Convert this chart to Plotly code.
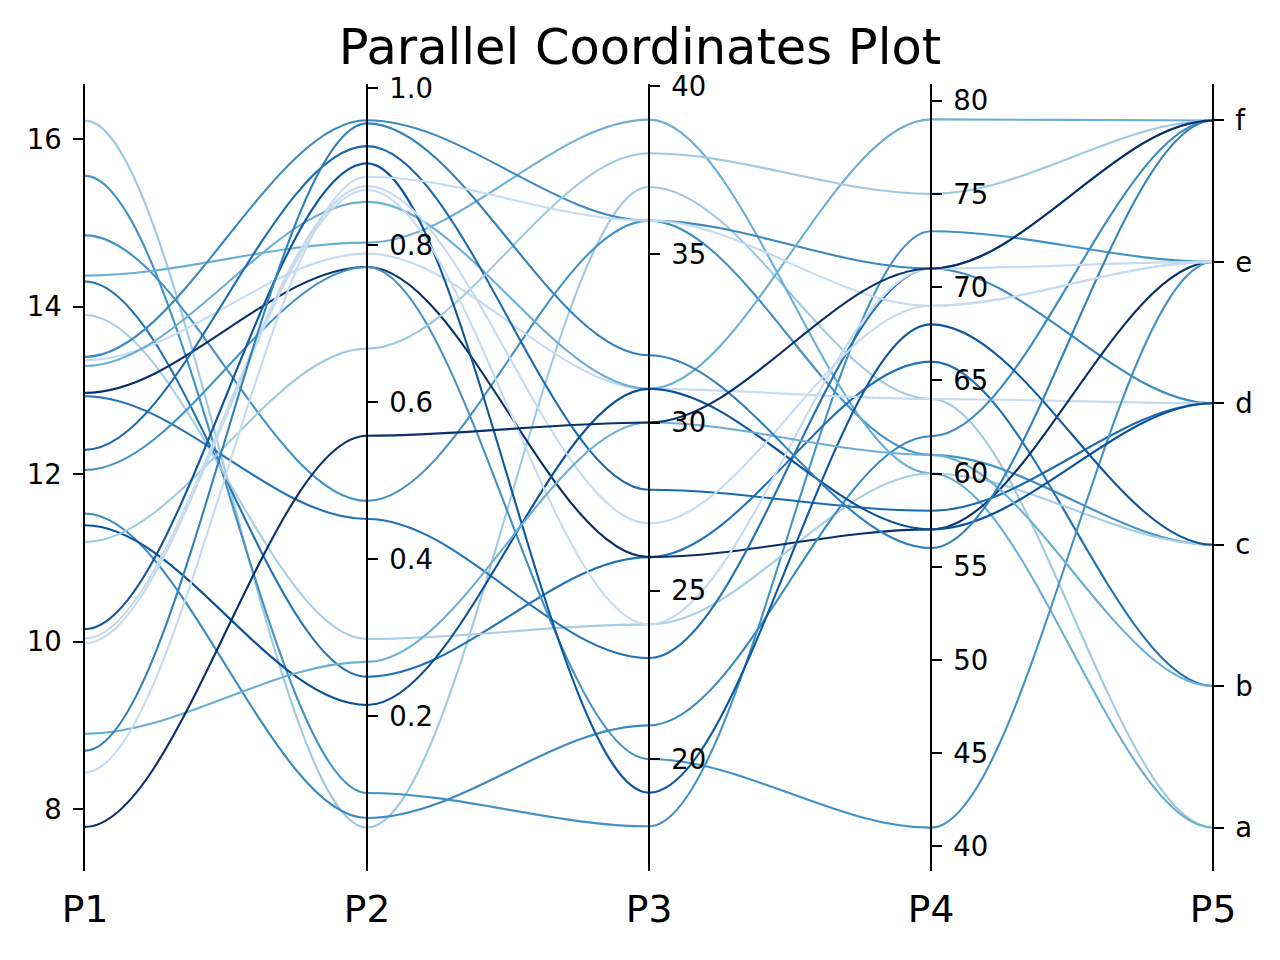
import plotly.graph_objects as go

# ---------------- data ----------------
dimensions = ["P1", "P2", "P3", "P4", "P5"]
categories = ["a", "b", "c", "d", "e", "f"]

p1 = [16.22, 15.56, 14.85, 14.37, 14.30, 13.90, 13.40, 13.36, 13.29, 12.97, 12.93, 12.29,
      12.05, 11.53, 11.39, 11.19, 10.15, 10.04, 9.98, 8.90, 8.70, 8.44, 7.79]
p2 = [0.058, 0.102, 0.474, 0.803, 0.250, 0.298, 0.959, 0.789, 0.855, 0.772, 0.451, 0.926,
      0.772, 0.070, 0.214, 0.668, 0.904, 0.875, 0.870, 0.269, 0.955, 0.887, 0.557]
p3 = [37, 18, 36, 39, 26, 24, 36, 31, 31, 26, 23, 28,
      20, 21, 31, 38, 19, 27, 24, 30, 32, 36, 30]
p4 = [64, 73, 61, 60, 66, 60, 71, 64, 79, 57, 71, 58,
      41, 62, 57, 75, 68, 69, 71, 61, 56, 69, 71]
p5 = ["a", "e", "c", "a", "b", "c", "d", "d", "f", "e", "f", "d",
      "e", "f", "d", "f", "c", "e", "e", "b", "f", "e", "f"]
line_colors = ["#9ecae1", "#4292c6", "#4292c6", "#6baed6", "#2171b5", "#a6cee4", "#3a8ac2",
               "#c6dbef", "#6baed6", "#08306b", "#2171b5", "#1c6aaf", "#4292c6", "#3a8ac2",
               "#08519c", "#9ecae1", "#0d57a1", "#c6dbef", "#c6dbef", "#6baed6", "#3181bd",
               "#c6dbef", "#08306b"]

p1_ticks = [8, 10, 12, 14, 16]
p2_ticks = [0.2, 0.4, 0.6, 0.8, 1.0]
p3_ticks = [20, 25, 30, 35, 40]
p4_ticks = [40, 45, 50, 55, 60, 65, 70, 75, 80]

# ---------------- layout constants ----------------
axis_ranges = [(7.2627, 16.657), (0.00255, 1.0051), (16.672, 40.059),
               (38.675, 80.896), (-0.3076, 5.258)]
FONT = "DejaVu Sans"
LW = 2.2

p5_num = [categories.index(c) for c in p5]
columns = [p1, p2, p3, p4, p5_num]
lo0, hi0 = axis_ranges[0]


def to_host(v, i):
    lo, hi = axis_ranges[i]
    return lo0 + (v - lo) / (hi - lo) * (hi0 - lo0)


shapes = []
for j in range(len(p1)):
    zs = [to_host(columns[i][j], i) for i in range(5)]
    d = f"M 0,{zs[0]:.5f}"
    for k in range(4):
        d += (f" C {k + 1/3:.5f},{zs[k]:.5f} {k + 2/3:.5f},{zs[k+1]:.5f}"
              f" {k + 1},{zs[k+1]:.5f}")
    shapes.append(dict(type="path", path=d, xref="x", yref="y", layer="below",
                       line=dict(color=line_colors[j], width=2.1),
                       fillcolor="rgba(0,0,0,0)"))

fig = go.Figure()
# invisible anchor traces so that every axis is rendered
for i in range(5):
    fig.add_trace(go.Scatter(x=[0], y=[axis_ranges[i][0]], mode="markers",
                             marker=dict(opacity=0), hoverinfo="skip", showlegend=False,
                             yaxis="y" if i == 0 else f"y{i+1}"))

common = dict(showline=True, linecolor="black", linewidth=LW, ticks="outside",
              ticklen=9.7, tickwidth=LW, tickcolor="black", showgrid=False, zeroline=False,
              tickfont=dict(family=FONT, size=27.5, color="black"), automargin=False,
              ticklabelstandoff=6)

fig.update_layout(
    width=1280, height=960,
    margin=dict(l=85, r=67, t=84, b=89),
    paper_bgcolor="white", plot_bgcolor="white",
    font=dict(family=FONT, color="black"),
    title=dict(text="Parallel Coordinates Plot", x=0.5, xanchor="center",
               y=1 - 47 / 960, yanchor="middle", yref="container",
               font=dict(family=FONT, size=49.5, color="black")),
    shapes=shapes,
    xaxis=dict(range=[0, 4], tickvals=list(range(5)), ticktext=dimensions,
               showline=False, ticks="", showgrid=False, zeroline=False,
               tickfont=dict(family=FONT, size=37.5, color="black"), automargin=False,
               ticklabelstandoff=12),
    yaxis=dict(range=list(axis_ranges[0]), tickvals=p1_ticks,
               ticktext=[str(t) for t in p1_ticks], side="left", **common),
    yaxis2=dict(range=list(axis_ranges[1]), tickvals=p2_ticks,
                ticktext=[f"{t:.1f}" for t in p2_ticks], overlaying="y", anchor="free",
                position=0.25, side="right", **common),
    yaxis3=dict(range=list(axis_ranges[2]), tickvals=p3_ticks,
                ticktext=[str(t) for t in p3_ticks], overlaying="y", anchor="free",
                position=0.5, side="right", **common),
    yaxis4=dict(range=list(axis_ranges[3]), tickvals=p4_ticks,
                ticktext=[str(t) for t in p4_ticks], overlaying="y", anchor="free",
                position=0.75, side="right", **common),
    yaxis5=dict(range=list(axis_ranges[4]), tickvals=list(range(6)),
                ticktext=categories, overlaying="y", anchor="free",
                position=1.0, side="right", **common),
)

fig.write_html("out.html")
